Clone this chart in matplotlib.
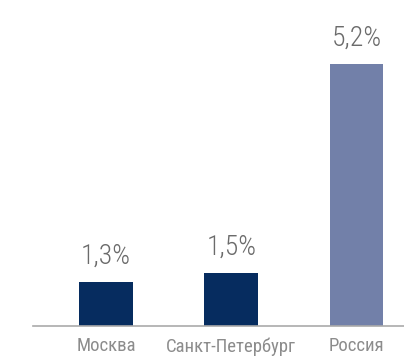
import numpy as np
import matplotlib
matplotlib.use("Agg")
import matplotlib.pyplot as plt

regions = ["Москва", "Санкт-Петербург", "Россия"]
growth = [1.3, 1.5, 5.2]
labels = ["1,3%", "1,5%", "5,2%"]
colors = ["#062c5f", "#062c5f", "#7280a9"]

# bars grow faster than linear: power scale on the value axis
power = 1.287


def forward(v):
    v = np.asarray(v, dtype=float)
    return np.sign(v) * np.abs(v) ** power


def inverse(v):
    v = np.asarray(v, dtype=float)
    return np.sign(v) * np.abs(v) ** (1 / power)


plt.rcParams["font.family"] = ["Roboto Condensed", "DejaVu Sans"]

fig = plt.figure(figsize=(4.04, 3.56), dpi=100)
ax = fig.add_axes([33 / 404, 30 / 356, 371 / 404, 326 / 356])

x = np.arange(len(regions))
ax.bar(x, growth, width=0.43, color=colors, zorder=2)

ax.set_yscale("function", functions=(forward, inverse))
ax.set_ylim(0, 6.16)
ax.set_xlim(-0.584, 2.38)

for xi, val, txt in zip(x, growth, labels):
    ax.annotate(txt, (xi, val), xytext=(0, 9), textcoords="offset points",
                ha="center", va="bottom", fontsize=20, weight="light",
                color="#6b6b6b")

ax.set_xticks(x)
ax.set_xticklabels(regions, fontsize=13.5, color="#8c8c8c")
ax.tick_params(axis="x", length=0, pad=8)
ax.set_yticks([])

for side in ["top", "right", "left"]:
    ax.spines[side].set_visible(False)
ax.spines["bottom"].set_color("#aaaaaa")
ax.spines["bottom"].set_linewidth(1.2)

fig.savefig("out.png", dpi=100)
